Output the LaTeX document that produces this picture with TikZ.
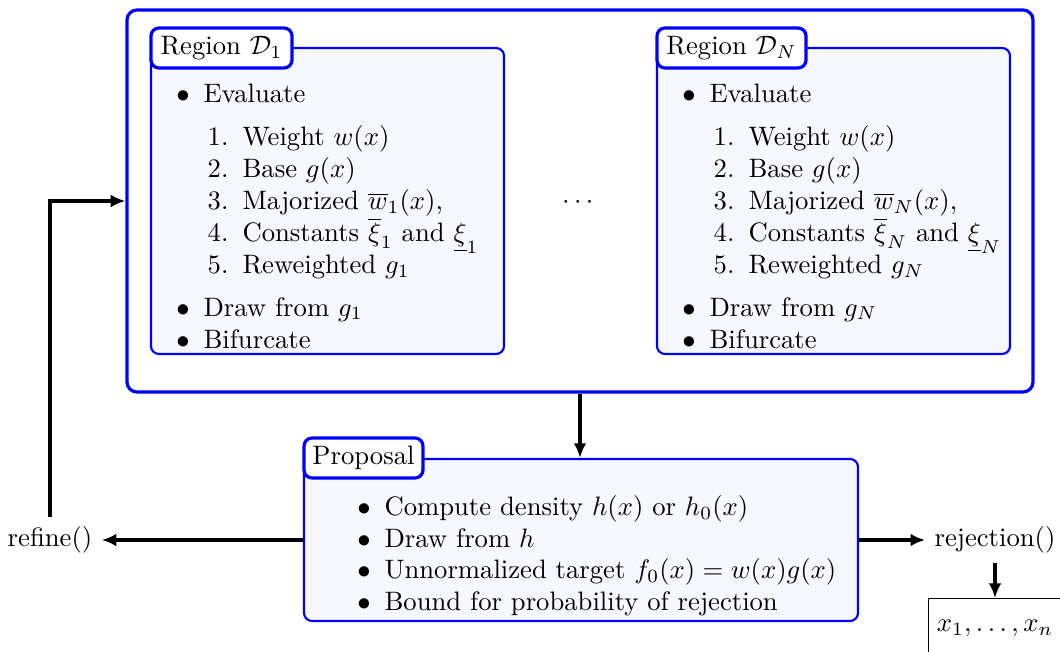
\documentclass[tikz,border=0pt]{standalone}
\usepackage{amsmath,amssymb}
\usetikzlibrary{arrows.meta,calc}
\tikzset{
  outerbox/.style={draw=blue, line width=1.2pt, rounded corners=3.75pt, inner sep=0pt},
  regionbox/.style={draw=blue, line width=0.8pt, fill=blue!3, rounded corners=3pt, inner sep=0pt},
  tabbox/.style={draw=blue, line width=1.2pt, fill=white, rounded corners=3pt, inner sep=0pt},
  arr/.style={line width=1.2pt, -{Latex[length=5.5pt,width=4.8pt]}},
  txt/.style={anchor=base west, inner sep=0pt},
  lbl/.style={anchor=base east, inner sep=0pt},
  bul/.style={anchor=base, inner sep=0pt},
  resbox/.style={draw=black, line width=0.4pt, anchor=north, minimum height=22.5pt, inner sep=3pt}
}
\begin{document}
\begin{tikzpicture}[x=0.375pt,y=-0.375pt]
\useasboundingbox (0,0) rectangle (1060,651);
% outer box
\node[outerbox, minimum width=339.75pt, minimum height=143.25pt] (outer) at (580,201) {};
% region D1
\node[regionbox, minimum width=132.4pt, minimum height=114.75pt] (r1) at (327.5,201) {};
\node[tabbox, minimum width=52.9pt, minimum height=15pt] (t1) at (221.5,48) {Region $\mathcal{D}_1$};
% region DN
\node[regionbox, minimum width=132.4pt, minimum height=114.75pt] (rN) at (833.5,201) {};
\node[tabbox, minimum width=55.9pt, minimum height=15pt] (tN) at (731.5,48) {Region $\mathcal{D}_N$};
% dots
\node (dots) at (580,203) {$\cdots$};
% D1 contents
\node[bul] (a1b) at (183,103) {$\bullet$};
\node[txt] (a1) at (203,103) {Evaluate};
\node[lbl] (a1n1) at (229,146) {1.};
\node[txt] (a1e1) at (242,146) {Weight $w(x)$};
\node[lbl] (a1n2) at (229,178) {2.};
\node[txt] (a1e2) at (242,178) {Base $g(x)$};
\node[lbl] (a1n3) at (229,210) {3.};
\node[txt] (a1e3) at (242,210) {Majorized $\overline{w}_1(x)$,};
\node[lbl] (a1n4) at (229,242) {4.};
\node[txt] (a1e4) at (242,242) {Constants $\overline{\xi}_1$ and $\underline{\xi}_1$};
\node[lbl] (a1n5) at (229,274) {5.};
\node[txt] (a1e5) at (242,274) {Reweighted $g_1$};
\node[bul] (a2b) at (183,316) {$\bullet$};
\node[txt] (a2) at (203,316) {Draw from $g_1$};
\node[bul] (a3b) at (183,348) {$\bullet$};
\node[txt] (a3) at (203,348) {Bifurcate};
% DN contents
\node[bul] (bNb) at (689,103) {$\bullet$};
\node[txt] (bN) at (709,103) {Evaluate};
\node[lbl] (bNn1) at (735,146) {1.};
\node[txt] (bNe1) at (748,146) {Weight $w(x)$};
\node[lbl] (bNn2) at (735,178) {2.};
\node[txt] (bNe2) at (748,178) {Base $g(x)$};
\node[lbl] (bNn3) at (735,210) {3.};
\node[txt] (bNe3) at (748,210) {Majorized $\overline{w}_N(x)$,};
\node[lbl] (bNn4) at (735,242) {4.};
\node[txt] (bNe4) at (748,242) {Constants $\overline{\xi}_N$ and $\underline{\xi}_N$};
\node[lbl] (bNn5) at (735,274) {5.};
\node[txt] (bNe5) at (748,274) {Reweighted $g_N$};
\node[bul] (b2b) at (689,316) {$\bullet$};
\node[txt] (b2) at (709,316) {Draw from $g_N$};
\node[bul] (b3b) at (689,348) {$\bullet$};
\node[txt] (b3) at (709,348) {Bifurcate};
% proposal
\node[regionbox, minimum width=207.75pt, minimum height=60.75pt] (prop) at (581,540) {};
\node[tabbox, minimum width=44.6pt, minimum height=15pt] (tp) at (363.5,458) {Proposal};
\node[bul] (p1b) at (364,515) {$\bullet$};
\node[txt] (p1) at (384,515) {Compute density $h(x)$ or $h_0(x)$};
\node[bul] (p2b) at (364,547) {$\bullet$};
\node[txt] (p2) at (384,547) {Draw from $h$};
\node[bul] (p3b) at (364,578) {$\bullet$};
\node[txt] (p3) at (384,578) {Unnormalized target $f_0(x)=w(x)g(x)$};
\node[bul] (p4b) at (364,610) {$\bullet$};
\node[txt] (p4) at (384,610) {Bound for probability of rejection};
% side nodes
\node (refine) at (50,540) {refine()};
\node (rej) at (995,540) {rejection()};
\node[resbox] (res) at (995,598) {$x_1,\ldots,x_n$};
% connectors
\draw[arr] (outer.south) -- (outer.south |- prop.north);
\draw[arr] (prop.west) -- (prop.west -| refine.east);
\draw[arr] (refine.north) |- (outer.west);
\draw[arr] (prop.east) -- (prop.east -| rej.west);
\draw[arr] (rej.south) -- (res.north);
\end{tikzpicture}
\end{document}
